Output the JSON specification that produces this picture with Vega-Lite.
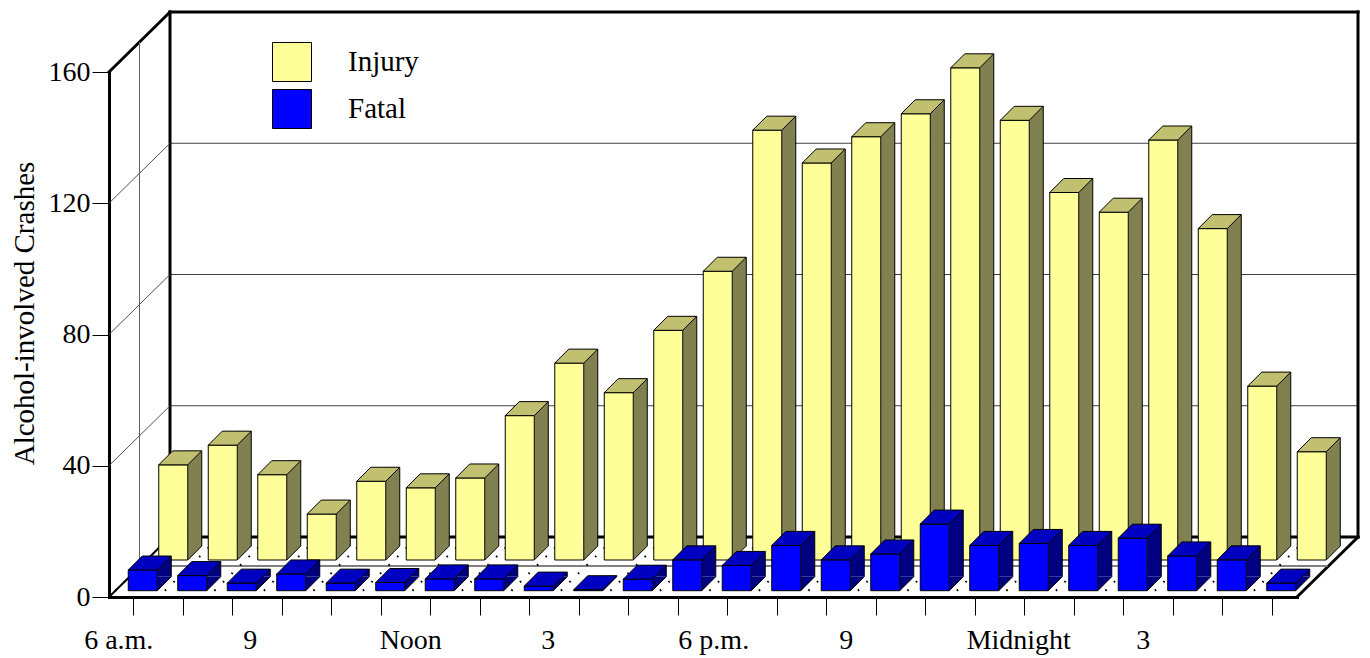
{
  "$schema": "https://vega.github.io/schema/vega-lite/v6.json",
  "width": 1188,
  "height": 525,
  "autosize": {"type": "none"},
  "padding": {"left": 109, "top": 72, "right": 73, "bottom": 61},
  "background": "white",
  "config": {"view": {"stroke": null}, "font": "Liberation Serif"},
  "datasets": {
    "crashes": [
      {"hour": "6 a.m.", "type": "Injury", "count": 29},
      {"hour": "7 a.m.", "type": "Injury", "count": 35},
      {"hour": "8 a.m.", "type": "Injury", "count": 26},
      {"hour": "9 a.m.", "type": "Injury", "count": 14},
      {"hour": "10 a.m.", "type": "Injury", "count": 24},
      {"hour": "11 a.m.", "type": "Injury", "count": 22},
      {"hour": "Noon", "type": "Injury", "count": 25},
      {"hour": "1 p.m.", "type": "Injury", "count": 44},
      {"hour": "2 p.m.", "type": "Injury", "count": 60},
      {"hour": "3 p.m.", "type": "Injury", "count": 51},
      {"hour": "4 p.m.", "type": "Injury", "count": 70},
      {"hour": "5 p.m.", "type": "Injury", "count": 88},
      {"hour": "6 p.m.", "type": "Injury", "count": 131},
      {"hour": "7 p.m.", "type": "Injury", "count": 121},
      {"hour": "8 p.m.", "type": "Injury", "count": 129},
      {"hour": "9 p.m.", "type": "Injury", "count": 136},
      {"hour": "10 p.m.", "type": "Injury", "count": 150},
      {"hour": "11 p.m.", "type": "Injury", "count": 134},
      {"hour": "Midnight", "type": "Injury", "count": 112},
      {"hour": "1 a.m.", "type": "Injury", "count": 106},
      {"hour": "2 a.m.", "type": "Injury", "count": 128},
      {"hour": "3 a.m.", "type": "Injury", "count": 101},
      {"hour": "4 a.m.", "type": "Injury", "count": 53},
      {"hour": "5 a.m.", "type": "Injury", "count": 33},
      {"hour": "6 a.m.", "type": "Fatal", "count": 6.3},
      {"hour": "7 a.m.", "type": "Fatal", "count": 4.6},
      {"hour": "8 a.m.", "type": "Fatal", "count": 2.3},
      {"hour": "9 a.m.", "type": "Fatal", "count": 5.1},
      {"hour": "10 a.m.", "type": "Fatal", "count": 2.3},
      {"hour": "11 a.m.", "type": "Fatal", "count": 2.5},
      {"hour": "Noon", "type": "Fatal", "count": 3.6},
      {"hour": "1 p.m.", "type": "Fatal", "count": 3.6},
      {"hour": "2 p.m.", "type": "Fatal", "count": 1.4},
      {"hour": "3 p.m.", "type": "Fatal", "count": 0.3},
      {"hour": "4 p.m.", "type": "Fatal", "count": 3.5},
      {"hour": "5 p.m.", "type": "Fatal", "count": 9.4},
      {"hour": "6 p.m.", "type": "Fatal", "count": 7.7},
      {"hour": "7 p.m.", "type": "Fatal", "count": 13.8},
      {"hour": "8 p.m.", "type": "Fatal", "count": 9.4},
      {"hour": "9 p.m.", "type": "Fatal", "count": 11.2},
      {"hour": "10 p.m.", "type": "Fatal", "count": 20.3},
      {"hour": "11 p.m.", "type": "Fatal", "count": 13.8},
      {"hour": "Midnight", "type": "Fatal", "count": 14.4},
      {"hour": "1 a.m.", "type": "Fatal", "count": 13.8},
      {"hour": "2 a.m.", "type": "Fatal", "count": 16},
      {"hour": "3 a.m.", "type": "Fatal", "count": 10.6},
      {"hour": "4 a.m.", "type": "Fatal", "count": 9.4},
      {"hour": "5 a.m.", "type": "Fatal", "count": 2.3}
    ],
    "levels": [{"v": 0}, {"v": 40}, {"v": 80}, {"v": 120}, {"v": 160}]
  },
  "data": {"name": "crashes"},
  "encoding": {
    "x": {
      "field": "hour",
      "type": "nominal",
      "scale": {
        "type": "band",
        "paddingInner": 0,
        "paddingOuter": 0,
        "domain": ["6 a.m.", "7 a.m.", "8 a.m.", "9 a.m.", "10 a.m.", "11 a.m.", "Noon", "1 p.m.", "2 p.m.", "3 p.m.", "4 p.m.", "5 p.m.", "6 p.m.", "7 p.m.", "8 p.m.", "9 p.m.", "10 p.m.", "11 p.m.", "Midnight", "1 a.m.", "2 a.m.", "3 a.m.", "4 a.m.", "5 a.m."]
      },
      "axis": {
        "title": null,
        "labelExpr": "datum.value === '6 a.m.' ? '6 a.m.' : datum.value === '9 a.m.' ? '9' : datum.value === 'Noon' ? 'Noon' : datum.value === '3 p.m.' ? '3' : datum.value === '6 p.m.' ? '6 p.m.' : datum.value === '9 p.m.' ? '9' : datum.value === 'Midnight' ? 'Midnight' : datum.value === '3 a.m.' ? '3' : ''",
        "labelAngle": 0,
        "labelFont": "Liberation Serif",
        "labelFontSize": 28,
        "labelColor": "black",
        "labelBaseline": "alphabetic",
        "labelPadding": 33,
        "labelOverlap": false,
        "labelFlush": false,
        "labelBound": false,
        "labelOffset": {
          "condition": [
            {"test": "datum.value === '6 a.m.'", "value": -15},
            {"test": "datum.value === '9 a.m.'", "value": -32},
            {"test": "datum.value === 'Noon'", "value": -20},
            {"test": "datum.value === '3 p.m.'", "value": -31},
            {"test": "datum.value === '6 p.m.'", "value": -14},
            {"test": "datum.value === '9 p.m.'", "value": -30},
            {"test": "datum.value === 'Midnight'", "value": -6},
            {"test": "datum.value === '3 a.m.'", "value": -30}
          ],
          "value": 0
        },
        "tickSize": 18,
        "tickColor": "black",
        "tickWidth": 1,
        "domainColor": "black",
        "domainWidth": 3,
        "domainCap": "square",
        "grid": false
      }
    },
    "y": {
      "field": "count",
      "type": "quantitative",
      "scale": {"domain": [0, 160], "nice": false},
      "axis": {
        "title": "Alcohol-involved Crashes",
        "values": [0, 40, 80, 120, 160],
        "titleFont": "Liberation Serif",
        "titleFontSize": 29,
        "titleFontWeight": "normal",
        "titleColor": "black",
        "titleX": -76,
        "titleY": 241,
        "titleAngle": 270,
        "titleAlign": "center",
        "titleBaseline": "alphabetic",
        "labelFont": "Liberation Serif",
        "labelFontSize": 28,
        "labelColor": "black",
        "labelPadding": 2,
        "tickSize": 17,
        "tickColor": "black",
        "tickWidth": 1,
        "domainColor": "black",
        "domainWidth": 3,
        "domainCap": "square",
        "grid": false
      }
    }
  },
  "layer": [
    {
      "data": {"name": "levels"},
      "transform": [{"filter": "datum.v > 0 && datum.v < 160"}],
      "mark": {"type": "rule", "color": "#404040", "strokeWidth": 1, "xOffset": 36.25, "x2Offset": 85.75, "yOffset": -60},
      "encoding": {
        "x": {"datum": "6 a.m.", "type": "nominal"},
        "x2": {"datum": "5 a.m."},
        "y": {"field": "v", "type": "quantitative"}
      }
    },
    {
      "data": {"name": "levels"},
      "transform": [{"filter": "datum.v == 0 || datum.v == 160"}],
      "mark": {"type": "rule", "color": "black", "strokeWidth": 3, "strokeCap": "square", "xOffset": 36.25, "x2Offset": 85.75, "yOffset": -60},
      "encoding": {
        "x": {"datum": "6 a.m.", "type": "nominal"},
        "x2": {"datum": "5 a.m."},
        "y": {"field": "v", "type": "quantitative"}
      }
    },
    {
      "data": {"name": "levels"},
      "transform": [{"filter": "datum.v == 0"}],
      "mark": {"type": "rule", "color": "black", "strokeWidth": 3, "strokeCap": "square", "xOffset": 36.25, "yOffset": -60, "y2Offset": -60},
      "encoding": {
        "x": {"datum": "6 a.m.", "type": "nominal"},
        "y": {"field": "v", "type": "quantitative"},
        "y2": {"datum": 160}
      }
    },
    {
      "data": {"name": "levels"},
      "transform": [{"filter": "datum.v == 0"}],
      "mark": {"type": "rule", "color": "black", "strokeWidth": 3, "strokeCap": "square", "xOffset": 85.75, "yOffset": -60, "y2Offset": -60},
      "encoding": {
        "x": {"datum": "5 a.m.", "type": "nominal"},
        "y": {"field": "v", "type": "quantitative"},
        "y2": {"datum": 160}
      }
    },
    {
      "data": {"name": "levels"},
      "transform": [{"filter": "datum.v > 0 && datum.v < 160"}],
      "mark": {"type": "rule", "color": "#505050", "strokeWidth": 1, "xOffset": -24.75, "x2Offset": 36.25, "y2Offset": -60},
      "encoding": {
        "x": {"datum": "6 a.m.", "type": "nominal"},
        "x2": {"datum": "6 a.m."},
        "y": {"field": "v", "type": "quantitative"},
        "y2": {"field": "v"}
      }
    },
    {
      "data": {"name": "levels"},
      "transform": [{"filter": "datum.v == 160"}],
      "mark": {"type": "rule", "color": "black", "strokeWidth": 3, "strokeCap": "square", "xOffset": -24.75, "x2Offset": 36.25, "y2Offset": -60},
      "encoding": {
        "x": {"datum": "6 a.m.", "type": "nominal"},
        "x2": {"datum": "6 a.m."},
        "y": {"field": "v", "type": "quantitative"},
        "y2": {"field": "v"}
      }
    },
    {
      "data": {"name": "levels"},
      "transform": [{"filter": "datum.v == 0"}],
      "mark": {"type": "rule", "color": "black", "strokeWidth": 2, "xOffset": -24.75, "x2Offset": 36.25, "y2Offset": -60},
      "encoding": {
        "x": {"datum": "6 a.m.", "type": "nominal"},
        "x2": {"datum": "6 a.m."},
        "y": {"field": "v", "type": "quantitative"},
        "y2": {"field": "v"}
      }
    },
    {
      "data": {"name": "levels"},
      "transform": [{"filter": "datum.v == 0"}],
      "mark": {"type": "rule", "color": "black", "strokeWidth": 3, "strokeCap": "square", "xOffset": 24.75, "x2Offset": 85.75, "y2Offset": -60},
      "encoding": {
        "x": {"datum": "5 a.m.", "type": "nominal"},
        "x2": {"datum": "5 a.m."},
        "y": {"field": "v", "type": "quantitative"},
        "y2": {"field": "v"}
      }
    },
    {
      "data": {"name": "levels"},
      "transform": [{"filter": "datum.v == 0"}],
      "mark": {"type": "rule", "color": "#808080", "strokeWidth": 2, "xOffset": 5.75, "x2Offset": 55.25, "yOffset": -31},
      "encoding": {
        "x": {"datum": "6 a.m.", "type": "nominal"},
        "x2": {"datum": "5 a.m."},
        "y": {"field": "v", "type": "quantitative"}
      }
    },
    {
      "data": {"name": "levels"},
      "transform": [{"filter": "datum.v == 0"}],
      "mark": {"type": "rule", "color": "#606060", "strokeWidth": 1, "xOffset": 5.75, "yOffset": -31, "y2Offset": -30},
      "encoding": {
        "x": {"datum": "6 a.m.", "type": "nominal"},
        "y": {"field": "v", "type": "quantitative"},
        "y2": {"datum": 160}
      }
    },
    {
      "transform": [{"filter": "datum.type === 'Injury'"}],
      "mark": {"type": "point", "shape": "M -24.75 0 L 36.25 -60", "size": 4, "filled": false, "stroke": "black", "strokeWidth": 2, "strokeDash": [1.6, 10.4], "strokeDashOffset": 3, "opacity": 1},
      "encoding": {"y": {"datum": 0, "type": "quantitative"}}
    },
    {
      "transform": [{"filter": "datum.type === 'Injury'"}],
      "mark": {"type": "bar", "width": 14, "xOffset": 61, "yOffset": -51, "y2Offset": -51, "color": "#808050"},
      "encoding": {"y2": {"datum": 0}}
    },
    {
      "transform": [{"filter": "datum.type === 'Injury'"}],
      "mark": {"type": "point", "shape": "M 54 -37 L 54 -51 L 68 -51 Z", "size": 4, "filled": true, "fill": "#808050", "strokeWidth": 0, "opacity": 1},
      "encoding": {"y": {"datum": 0, "type": "quantitative"}}
    },
    {
      "transform": [{"filter": "datum.type === 'Injury'"}],
      "mark": {"type": "point", "shape": "M 54 -37 L 68 -51", "size": 4, "filled": false, "stroke": "black", "strokeWidth": 1, "opacity": 1},
      "encoding": {"y": {"datum": 0, "type": "quantitative"}}
    },
    {
      "transform": [{"filter": "datum.type === 'Injury'"}],
      "mark": {"type": "rule", "color": "black", "strokeWidth": 1, "xOffset": 68, "yOffset": -51, "y2Offset": -51},
      "encoding": {"y2": {"datum": 0}}
    },
    {
      "transform": [{"filter": "datum.type === 'Injury'"}],
      "mark": {"type": "bar", "width": 29, "xOffset": 39.5, "yOffset": -37, "y2Offset": -37, "stroke": "black", "strokeWidth": 1, "opacity": 1},
      "encoding": {
        "y2": {"datum": 0},
        "color": {
          "field": "type",
          "type": "nominal",
          "scale": {"domain": ["Injury", "Fatal"], "range": ["#FFFF99", "#0000FF"]},
          "legend": {"title": null, "orient": "none", "legendX": 163, "legendY": -30, "direction": "vertical", "symbolType": "square", "symbolSize": 1521, "symbolStrokeColor": "black", "symbolStrokeWidth": 1, "symbolOpacity": 1, "labelFont": "Liberation Serif", "labelFontSize": 29, "labelColor": "black", "labelOffset": 36, "rowPadding": 3, "padding": 0}
        }
      }
    },
    {
      "transform": [{"filter": "datum.type === 'Injury'"}],
      "mark": {"type": "point", "shape": "M 25 -37 L 54 -37 L 68 -51 L 39 -51 Z", "size": 4, "filled": true, "fill": "#C0C070", "stroke": "black", "strokeWidth": 1, "opacity": 1}
    },
    {
      "transform": [{"filter": "datum.type === 'Fatal'"}],
      "mark": {"type": "bar", "width": 14, "xOffset": 30.5, "yOffset": -20.3, "y2Offset": -20.3, "color": "#000080"},
      "encoding": {"y2": {"datum": 0}}
    },
    {
      "transform": [{"filter": "datum.type === 'Fatal'"}],
      "mark": {"type": "point", "shape": "M 23.5 -6.3 L 23.5 -20.3 L 37.5 -20.3 Z", "size": 4, "filled": true, "fill": "#000080", "strokeWidth": 0, "opacity": 1},
      "encoding": {"y": {"datum": 0, "type": "quantitative"}}
    },
    {
      "transform": [{"filter": "datum.type === 'Fatal'"}],
      "mark": {"type": "point", "shape": "M 23.5 -6.3 L 37.5 -20.3", "size": 4, "filled": false, "stroke": "black", "strokeWidth": 1, "opacity": 1},
      "encoding": {"y": {"datum": 0, "type": "quantitative"}}
    },
    {
      "transform": [{"filter": "datum.type === 'Fatal'"}],
      "mark": {"type": "rule", "color": "black", "strokeWidth": 1, "xOffset": 37.5, "yOffset": -20.3, "y2Offset": -20.3},
      "encoding": {"y2": {"datum": 0}}
    },
    {
      "transform": [{"filter": "datum.type === 'Fatal'"}],
      "mark": {"type": "bar", "width": 29, "xOffset": 9, "yOffset": -6.3, "y2Offset": -6.3, "stroke": "black", "strokeWidth": 1, "opacity": 1},
      "encoding": {
        "y2": {"datum": 0},
        "color": {
          "field": "type",
          "type": "nominal",
          "scale": {"domain": ["Injury", "Fatal"], "range": ["#FFFF99", "#0000FF"]},
          "legend": {"title": null, "orient": "none", "legendX": 163, "legendY": -30, "direction": "vertical", "symbolType": "square", "symbolSize": 1521, "symbolStrokeColor": "black", "symbolStrokeWidth": 1, "symbolOpacity": 1, "labelFont": "Liberation Serif", "labelFontSize": 29, "labelColor": "black", "labelOffset": 36, "rowPadding": 3, "padding": 0}
        }
      }
    },
    {
      "transform": [{"filter": "datum.type === 'Fatal'"}],
      "mark": {"type": "point", "shape": "M -5.5 -6.3 L 23.5 -6.3 L 37.5 -20.3 L 8.5 -20.3 Z", "size": 4, "filled": true, "fill": "#0000C0", "stroke": "black", "strokeWidth": 1, "opacity": 1}
    }
  ]
}
